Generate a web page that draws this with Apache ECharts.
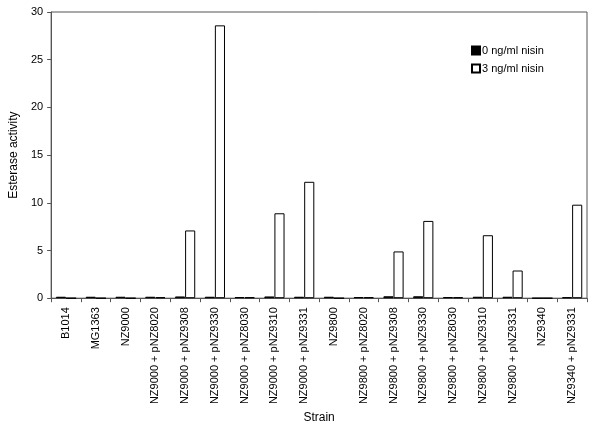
<!DOCTYPE html>
<html>
<head>
<meta charset="utf-8">
<script src="https://cdn.jsdelivr.net/npm/echarts@6/dist/echarts.min.js"></script>
<style>
  html, body { margin: 0; padding: 0; background: #fff; }
  #chart { width: 605px; height: 429px; }
</style>
</head>
<body>
<div id="chart"></div>
<script>
// strains on the x axis
var strains = ['B1014', 'MG1363', 'NZ9000', 'NZ9000 + pNZ8020', 'NZ9000 + pNZ9308',
  'NZ9000 + pNZ9330', 'NZ9000 + pNZ8030', 'NZ9000 + pNZ9310', 'NZ9000 + pNZ9331',
  'NZ9800', 'NZ9800 + pNZ8020', 'NZ9800 + pNZ9308', 'NZ9800 + pNZ9330',
  'NZ9800 + pNZ8030', 'NZ9800 + pNZ9310', 'NZ9800 + pNZ9331', 'NZ9340', 'NZ9340 + pNZ9331'];
// esterase activity, no nisin
var nisin0 = [0.15, 0.15, 0.15, 0.15, 0.18, 0.15, 0.12, 0.18, 0.15, 0.15, 0.12, 0.2, 0.2, 0.12, 0.15, 0.15, 0, 0.1];
// esterase activity, 3 ng/ml nisin
var nisin3 = [0, 0, 0, 0.1, 7.1, 28.6, 0.1, 8.9, 12.2, 0, 0.1, 4.9, 8.1, 0.1, 6.6, 2.9, 0, 9.8];

var font = 'Liberation Sans, Arial, sans-serif';
var myChart = echarts.init(document.getElementById('chart'));
myChart.setOption({
  animation: false,
  textStyle: { fontFamily: font },
  legend: {
    orient: 'vertical',
    left: 466,
    top: 40,
    icon: 'rect',
    itemWidth: 8,
    itemHeight: 8,
    itemGap: 7,
    textStyle: { fontSize: 11, color: '#000', padding: [0, 0, 0, -3] },
    data: ['0 ng/ml nisin', '3 ng/ml nisin']
  },
  grid: { left: 50, right: 18, top: 12, bottom: 128 },
  xAxis: {
    type: 'category',
    data: strains,
    name: 'Strain',
    nameLocation: 'middle',
    nameGap: 103,
    nameTextStyle: { fontSize: 12, color: '#000' },
    axisLine: { lineStyle: { color: '#555' } },
    axisTick: { show: true, length: 4, lineStyle: { color: '#555' } },
    axisLabel: { rotate: 90, fontSize: 11, color: '#000', margin: 9, interval: 0 }
  },
  yAxis: {
    type: 'value',
    min: 0,
    max: 30,
    interval: 5,
    name: 'Esterase activity',
    nameLocation: 'middle',
    nameGap: 30,
    nameTextStyle: { fontSize: 12, color: '#000' },
    axisLine: { show: true, lineStyle: { color: '#555' } },
    axisTick: { show: true, length: 4, lineStyle: { color: '#555' } },
    axisLabel: { fontSize: 11, color: '#000', margin: 8 },
    splitLine: { show: false }
  },
  series: [
    {
      name: '0 ng/ml nisin',
      type: 'bar',
      data: nisin0,
      barWidth: '34%',
      barGap: '0%',
      itemStyle: { color: '#000', borderColor: '#000', borderWidth: 1 }
    },
    {
      name: '3 ng/ml nisin',
      type: 'bar',
      data: nisin3,
      barWidth: '34%',
      itemStyle: { color: '#fff', borderColor: '#000', borderWidth: 1 }
    }
  ]
});

// frame around the plot area (top and right edges)
var g = myChart.getModel().getComponent('grid').coordinateSystem.getRect();
myChart.setOption({
  graphic: [{
    type: 'rect',
    shape: { x: g.x, y: g.y, width: g.width, height: g.height },
    style: { fill: 'none', stroke: '#555', lineWidth: 1 },
    silent: true,
    z: -1
  }]
});
</script>
</body>
</html>
